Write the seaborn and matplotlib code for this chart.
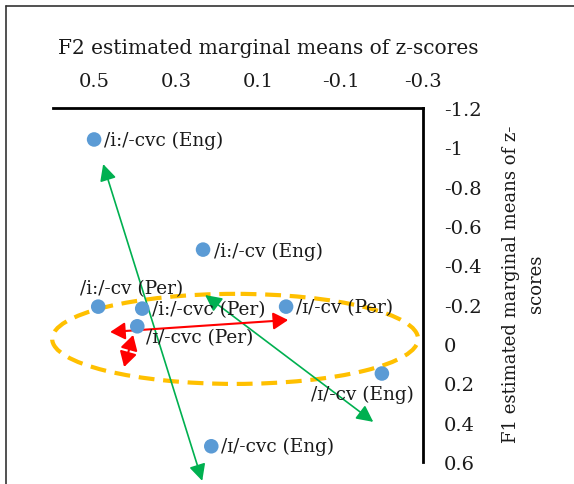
import matplotlib
matplotlib.use("Agg")
import matplotlib.pyplot as plt
from matplotlib.patches import Ellipse
from matplotlib.lines import Line2D
import seaborn as sns
import pandas as pd

# ---- data ----
labels = ["/i:/-cvc (Eng)", "/i:/-cv (Eng)", "/i:/-cv (Per)", "/i:/-cvc (Per)",
          "/ɪ/-cvc (Per)", "/ɪ/-cv (Per)", "/ɪ/-cv (Eng)", "/ɪ/-cvc (Eng)"]
f2 = [0.50, 0.235, 0.49, 0.383, 0.395, 0.033, -0.20, 0.215]
f1 = [-1.04, -0.48, -0.19, -0.18, -0.09, -0.19, 0.15, 0.52]

x_ticks = [0.5, 0.3, 0.1, -0.1, -0.3]
x_tick_labels = ["0.5", "0.3", "0.1", "-0.1", "-0.3"]
y_ticks = [-1.2, -1.0, -0.8, -0.6, -0.4, -0.2, 0.0, 0.2, 0.4, 0.6]
y_tick_labels = ["-1.2", "-1", "-0.8", "-0.6", "-0.4", "-0.2", "0", "0.2", "0.4", "0.6"]

# arrows: (x_start, y_start, x_end, y_end)
green_arrows = [(0.478, -0.915, 0.237, 0.696), (0.230, -0.249, -0.179, 0.396)]
red_arrows = [(0.461, -0.061, 0.028, -0.122), (0.405, -0.046, 0.427, 0.117)]
# ellipse: center x, center y, width, height
ellipse_spec = (0.157, -0.026, 0.89, 0.458)

df = pd.DataFrame({"F2": f2, "F1": f1, "label": labels})

# label layout (offset points, alignment)
label_layout = [((7, 0), "left"), ((8, -1), "left"), ((24, 13), "center"), ((7, 0), "left"),
                ((6, -8), "left"), ((7, 0), "left"), ((-14, -15), "center"), ((7, 0), "left")]

sns.set_theme(style="white")
plt.rcParams["font.family"] = ["DejaVu Serif", "DejaVu Sans"]

fig = plt.figure(figsize=(5.74, 4.85), dpi=100)
ax = fig.add_axes([53/574, 22/485, 370/574, 354/485])

sns.scatterplot(data=df, x="F2", y="F1", ax=ax, color="#5B9BD5", s=110,
                edgecolor="none", zorder=5, clip_on=False, legend=False)

ax.set_xlim(0.6, -0.3)
ax.set_ylim(0.6, -1.2)

ax.xaxis.tick_top()
ax.yaxis.tick_right()
ax.set_xticks(x_ticks)
ax.set_xticklabels(x_tick_labels)
ax.set_yticks(y_ticks)
ax.set_yticklabels(y_tick_labels)
ax.tick_params(axis="x", length=0, pad=13, labelsize=14, colors="#1a1a1a")
ax.tick_params(axis="y", length=0, pad=15, labelsize=14, colors="#1a1a1a")
for lab in ax.get_yticklabels():
    lab.set_ha("left")

for side in ["left", "bottom"]:
    ax.spines[side].set_visible(False)
for side in ["top", "right"]:
    ax.spines[side].set_visible(True)
    ax.spines[side].set_color("black")
    ax.spines[side].set_linewidth(2)

ax.xaxis.set_label_position("top")
ax.set_xlabel("F2 estimated marginal means of z-scores", fontsize=14.5, color="#1a1a1a")
ax.xaxis.set_label_coords(0.581, 1.172)
ax.xaxis.label.set_va("center")

ax.yaxis.set_label_position("right")
ax.set_ylabel("F1 estimated marginal means of z-\nscores", fontsize=13,
              color="#1a1a1a", linespacing=1.55)
ax.yaxis.set_label_coords(1.272, 0.506)
ax.yaxis.label.set_va("center")
ax.yaxis.label.set_rotation(90)

# ellipse
ex, ey, ew, eh = ellipse_spec
ax.add_patch(Ellipse((ex, ey), ew, eh, fill=False, edgecolor="#FFC000", lw=3,
                     linestyle=(0, (3.8, 2.1)), clip_on=False, zorder=3))

for (xs, ys, xe, ye) in green_arrows:
    ax.annotate("", xy=(xe, ye), xytext=(xs, ys), annotation_clip=False,
                arrowprops=dict(arrowstyle="<|-|>,head_length=0.5,head_width=0.25",
                                mutation_scale=20, color="#00B050", lw=1.2,
                                shrinkA=0, shrinkB=0), zorder=4)
for (xs, ys, xe, ye) in red_arrows:
    ax.annotate("", xy=(xe, ye), xytext=(xs, ys), annotation_clip=False,
                arrowprops=dict(arrowstyle="<|-|>,head_length=0.45,head_width=0.26",
                                mutation_scale=20, color="#FF0000", lw=1.5,
                                shrinkA=0, shrinkB=0), zorder=4)

for (x, y, t), ((dx, dy), ha) in zip(zip(f2, f1, labels), label_layout):
    ax.annotate(t, xy=(x, y), xytext=(dx, dy), textcoords="offset points",
                ha=ha, va="center", fontsize=13.3, color="#1a1a1a", zorder=6,
                annotation_clip=False)

# outer frame (top and left visible)
fig.add_artist(Line2D([6/574, 1.0], [1 - 7/485, 1 - 7/485], transform=fig.transFigure,
                      color="#333333", lw=1.2))
fig.add_artist(Line2D([6/574, 6/574], [0.0, 1 - 7/485], transform=fig.transFigure,
                      color="#333333", lw=1.2))

fig.savefig("out.png", dpi=100)
